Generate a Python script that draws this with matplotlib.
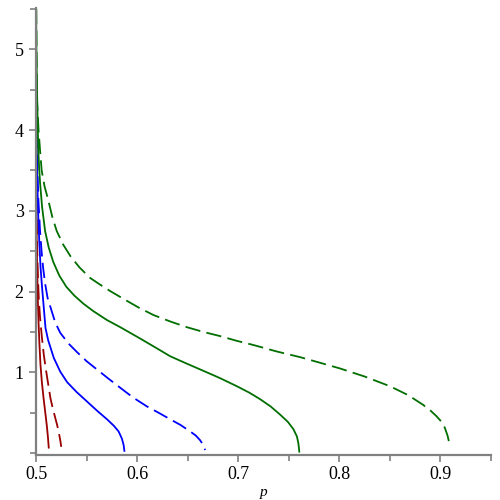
import numpy as np
import matplotlib
matplotlib.use("Agg")
import matplotlib.pyplot as plt
from matplotlib.ticker import MultipleLocator

# curves (p, value)
red_solid_p = [0.5001, 0.5004, 0.5008, 0.5013, 0.5018, 0.5025, 0.5034, 0.5044, 0.5058,
               0.5075, 0.5094, 0.5108, 0.5118, 0.5126]
red_solid_y = [3.60, 3.00, 2.55, 2.20, 1.90, 1.62, 1.35, 1.10, 0.88,
               0.68, 0.48, 0.33, 0.20, 0.07]

red_dash_p = [0.5002, 0.5006, 0.5012, 0.5020, 0.5028, 0.5040, 0.5057, 0.5077, 0.5095,
              0.5115, 0.5143, 0.5165, 0.5190, 0.5209, 0.5225, 0.5240, 0.5250]
red_dash_y = [3.70, 3.00, 2.50, 2.15, 1.90, 1.68, 1.45, 1.22, 1.06,
              0.90, 0.68, 0.56, 0.44, 0.35, 0.26, 0.16, 0.08]

blue_solid_p = [0.5002, 0.5005, 0.5009, 0.5015, 0.5022, 0.5033, 0.5045, 0.5060, 0.5075,
                0.5094, 0.5120, 0.5176, 0.5240, 0.5308, 0.5400, 0.5505, 0.5610, 0.5703,
                0.5770, 0.5817, 0.5850, 0.5867, 0.5874]
blue_solid_y = [4.50, 4.00, 3.60, 3.25, 2.95, 2.60, 2.30, 2.05, 1.83,
                1.55, 1.40, 1.18, 1.01, 0.88, 0.76, 0.64, 0.52, 0.42,
                0.34, 0.27, 0.18, 0.10, 0.03]

blue_dash_p = [0.5003, 0.5007, 0.5012, 0.5023, 0.5040, 0.5055, 0.5070, 0.5090, 0.5115,
               0.5150, 0.5190, 0.5240, 0.5320, 0.5407, 0.5500, 0.5600, 0.5710, 0.5834,
               0.5960, 0.6097, 0.6215, 0.6328, 0.6430, 0.6525, 0.6580, 0.6624, 0.6655, 0.6673]
blue_dash_y = [4.50, 4.00, 3.60, 3.15, 2.75, 2.50, 2.30, 2.10, 1.92,
               1.78, 1.62, 1.49, 1.36, 1.25, 1.14, 1.04, 0.93, 0.81,
               0.69, 0.58, 0.50, 0.42, 0.35, 0.27, 0.22, 0.16, 0.10, 0.04]

green_solid_p = [0.5001, 0.5004, 0.5010, 0.5016, 0.5023, 0.5030, 0.5040, 0.5060, 0.5090,
                 0.5125, 0.5170, 0.5230, 0.5300, 0.5380, 0.5470, 0.5566, 0.5700, 0.5834,
                 0.6030, 0.6180, 0.6328, 0.6490, 0.6656, 0.6820, 0.6986, 0.7110, 0.7216,
                 0.7320, 0.7413, 0.7490, 0.7545, 0.7580, 0.7594, 0.7601, 0.7604]
green_solid_y = [5.50, 5.00, 4.50, 4.10, 3.75, 3.55, 3.35, 3.05, 2.75,
                 2.55, 2.37, 2.20, 2.06, 1.95, 1.85, 1.76, 1.65, 1.56,
                 1.42, 1.31, 1.20, 1.11, 1.02, 0.93, 0.83, 0.75, 0.67,
                 0.58, 0.48, 0.39, 0.30, 0.21, 0.13, 0.06, 0.02]

green_dash_p = [0.5003, 0.5006, 0.5010, 0.5025, 0.5040, 0.5056, 0.5085, 0.5120, 0.5160,
                0.5205, 0.5270, 0.5340, 0.5430, 0.5535, 0.5630, 0.5730, 0.5880, 0.6020,
                0.6163, 0.6330, 0.6493, 0.6660, 0.6821, 0.6990, 0.7150, 0.7380, 0.7611,
                0.7810, 0.8006, 0.8250, 0.8500, 0.8680, 0.8828, 0.8900, 0.8960, 0.9010,
                0.9042, 0.9070, 0.9085, 0.9092]
green_dash_y = [5.50, 4.90, 4.37, 4.00, 3.75, 3.50, 3.30, 3.14, 2.93,
                2.75, 2.58, 2.44, 2.30, 2.17, 2.09, 2.01, 1.90, 1.80,
                1.71, 1.63, 1.56, 1.50, 1.45, 1.39, 1.34, 1.26, 1.19,
                1.12, 1.05, 0.95, 0.83, 0.72, 0.60, 0.53, 0.46, 0.39,
                0.32, 0.22, 0.14, 0.08]

red = "#990000"
blue = "#0000ff"
green = "#006f00"
dash = (8.5, 3.5)

fig = plt.figure(figsize=(5, 5), dpi=100)
ax = fig.add_axes([0.071, 0.091, 0.911, 0.893])

ax.plot(red_solid_p, red_solid_y, color=red, lw=1.3)
ax.plot(red_dash_p, red_dash_y, color=red, lw=1.3, dashes=dash)
ax.plot(blue_solid_p, blue_solid_y, color=blue, lw=1.3)
ax.plot(blue_dash_p, blue_dash_y, color=blue, lw=1.3, dashes=dash)
ax.plot(green_solid_p, green_solid_y, color=green, lw=1.3)
ax.plot(green_dash_p, green_dash_y, color=green, lw=1.3, dashes=dash)

ax.set_xlim(0.4995, 0.95)
ax.set_ylim(-0.015, 5.51)

for s in ["top", "right"]:
    ax.spines[s].set_visible(False)
for s in ["left", "bottom"]:
    ax.spines[s].set_color("#808080")
    ax.spines[s].set_linewidth(1.6)

ax.set_xticks([0.5, 0.6, 0.7, 0.8, 0.9])
ax.set_xticklabels(["0.5", "0.6", "0.7", "0.8", "0.9"])
ax.xaxis.set_minor_locator(MultipleLocator(0.05))
ax.set_yticks([1, 2, 3, 4, 5])
ax.set_yticklabels(["1", "2", "3", "4", "5"])
ax.yaxis.set_minor_locator(MultipleLocator(0.5))

ax.tick_params(which="both", colors="#808080", labelcolor="black",
               labelsize=13, width=1.2)
ax.tick_params(which="major", length=5)
ax.tick_params(which="minor", length=4)
for lab in ax.get_xticklabels() + ax.get_yticklabels():
    lab.set_family("Liberation Serif")

ax.set_xlabel("p", family="Liberation Serif", style="italic", fontsize=11, labelpad=2)

fig.savefig("out.png", dpi=100)
